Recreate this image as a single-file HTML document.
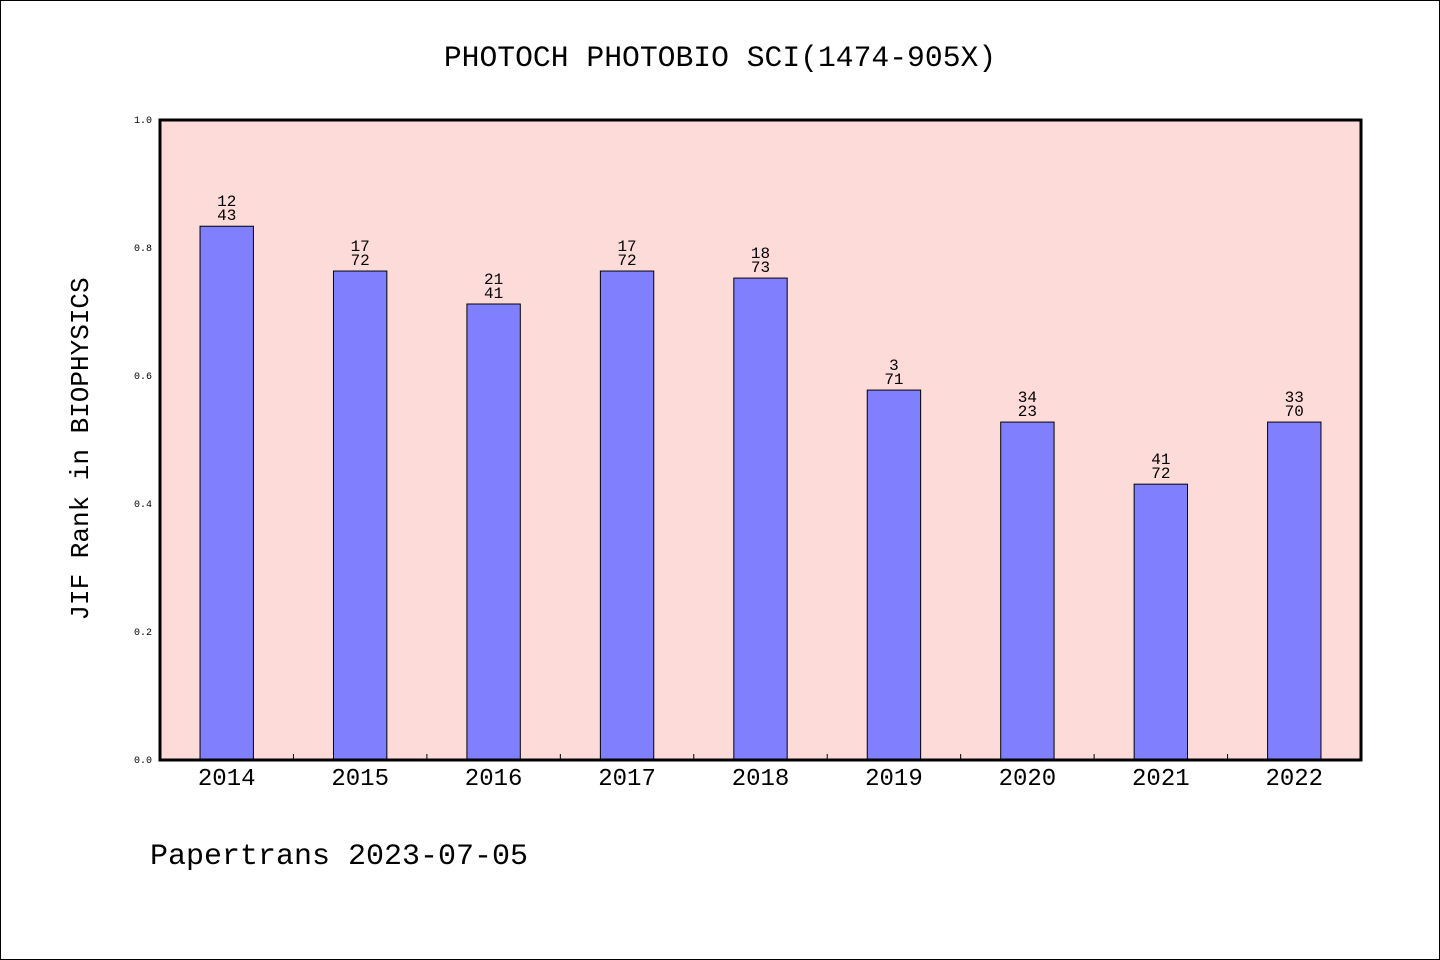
<!DOCTYPE html>
<html><head><meta charset="utf-8"><style>
html,body{margin:0;padding:0;background:#fff}
svg{display:block}
text{font-family:"Liberation Mono",monospace;fill:#000}
</style></head><body>
<svg id="chart" width="1440" height="960">
<rect x="0.5" y="0.5" width="1439" height="959" fill="#fff" stroke="#000" stroke-width="1"/>
<text x="720" y="66" font-size="29.7" text-anchor="middle">PHOTOCH PHOTOBIO SCI(1474-905X)</text>
<rect x="160" y="120" width="1201" height="640" fill="#fddbd8"/>
<g id="bars"></g>
<g id="ticks"></g>
<rect x="160" y="120" width="1201" height="640" fill="none" stroke="#000" stroke-width="3"/>
<text transform="translate(88,449) rotate(-90)" font-size="26" text-anchor="middle">JIF Rank in BIOPHYSICS</text>
<text x="150" y="864" font-size="30">Papertrans 2023-07-05</text>
</svg>
<script>
const categories=["2014","2015","2016","2017","2018","2019","2020","2021","2022"];
const values=[0.834,0.764,0.7125,0.764,0.753,0.578,0.528,0.431,0.528];
const rankTop=["12","17","21","17","18","3","34","41","33"];
const rankBottom=["43","72","41","72","73","71","23","72","70"];
const yTicks=["0.0","0.2","0.4","0.6","0.8","1.0"];
const NS="http://www.w3.org/2000/svg";
const X0=160,X1=1361,Y0=760,Y1=120;
const band=(X1-X0)/categories.length;
const xc=i=>X0+band*(i+0.5);
const y=v=>Y0-(Y0-Y1)*v;
function mk(tag,attrs,parent,txt){const e=document.createElementNS(NS,tag);for(const k in attrs)e.setAttribute(k,attrs[k]);if(txt!=null)e.textContent=txt;parent.appendChild(e);return e;}
const bars=document.getElementById('bars'),ticks=document.getElementById('ticks');
categories.forEach((c,i)=>{
  const w=band*0.4;
  const r=mk('rect',{x:xc(i)-w/2,y:y(values[i]),width:w,height:Y0-y(values[i]),fill:'#8080ff',stroke:'#000','stroke-width':1},bars);
  
  
  const t1=mk('text',{x:xc(i),y:y(values[i])-20,'font-size':16,'text-anchor':'middle'},bars,rankTop[i]);
  
  
  const t2=mk('text',{x:xc(i),y:y(values[i])-6,'font-size':16,'text-anchor':'middle'},bars,rankBottom[i]);
  
  
  const xl=mk('text',{x:xc(i),y:785,'font-size':24,'text-anchor':'middle'},ticks,c);
  
  
  if(i>0){
    const tk=mk('line',{x1:X0+band*i,x2:X0+band*i,y1:Y0,y2:Y0-6,stroke:'#000','stroke-width':1},ticks);
    
    
  }
});
yTicks.forEach(t=>{
  const v=parseFloat(t);
  const l=mk('text',{x:152,y:y(v)+3,'font-size':10,'text-anchor':'end'},ticks,t);
  
  
});
</script>
</body></html>
